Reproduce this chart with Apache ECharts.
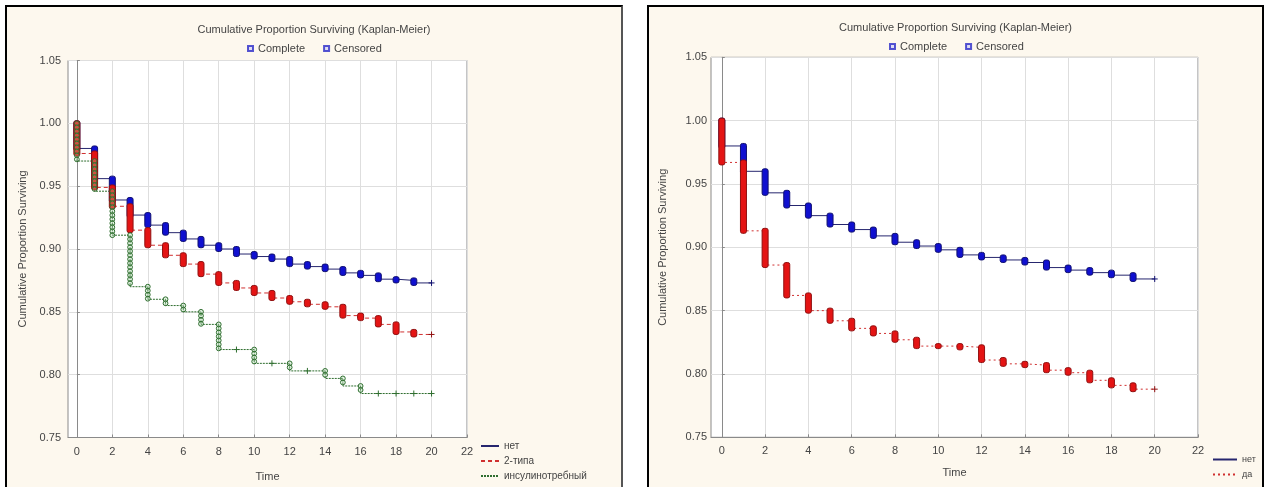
<!DOCTYPE html>
<html>
<head>
<meta charset="utf-8">
<script src="https://cdn.jsdelivr.net/npm/echarts@6/dist/echarts.min.js"></script>
<style>
  html, body { margin: 0; padding: 0; background: #fff; width: 1264px; height: 487px; overflow: hidden; }
  .panel { position: absolute; top: 5px; height: 500px; border: 2px solid #000; box-sizing: border-box; background: #fdf8ee; }
  #left { left: 5px; width: 618px; border-right-color: #555; }
  #right { left: 647px; width: 617px; }
</style>
</head>
<body>
<div class="panel" id="left"></div>
<div class="panel" id="right"></div>
<script>
// time points (the curve starts at 1.0 at t = 0)
const times = [0, 1, 2, 3, 4, 5, 6, 7, 8, 9, 10, 11, 12, 13, 14, 15, 16, 17, 18, 19, 20];
const xTicks = [0, 2, 4, 6, 8, 10, 12, 14, 16, 18, 20, 22];

// left chart: survival level after each time 0..19
const noLeft      = [0.980, 0.956, 0.939, 0.927, 0.919, 0.913, 0.908, 0.903, 0.900, 0.896, 0.894, 0.892, 0.888, 0.886, 0.884, 0.881, 0.879, 0.876, 0.875, 0.873];
const type2Left   = [0.976, 0.949, 0.934, 0.915, 0.903, 0.895, 0.888, 0.880, 0.873, 0.869, 0.865, 0.861, 0.858, 0.856, 0.854, 0.847, 0.845, 0.840, 0.834, 0.832];
const insulinLeft = [0.970, 0.946, 0.911, 0.870, 0.860, 0.855, 0.850, 0.840, 0.820, 0.820, 0.809, 0.809, 0.803, 0.803, 0.797, 0.791, 0.785, 0.785, 0.785, 0.785];

// right chart
const noRight  = [0.980, 0.960, 0.943, 0.933, 0.925, 0.918, 0.914, 0.909, 0.904, 0.901, 0.898, 0.894, 0.892, 0.890, 0.888, 0.884, 0.882, 0.880, 0.878, 0.875];
const yesRight = [0.967, 0.913, 0.886, 0.862, 0.850, 0.842, 0.836, 0.832, 0.827, 0.822, 0.822, 0.821, 0.811, 0.808, 0.807, 0.803, 0.801, 0.795, 0.791, 0.788];

const FONT = 'Liberation Sans, Arial, sans-serif';
const TXT = '#444';

function stepData(levels) {
    const d = [[times[0], 1.0]];
    levels.forEach((v, i) => d.push([times[i], v]));
    d.push([times[times.length - 1], levels[levels.length - 1]]);
    return d;
}

function dropData(levels) {
    return levels.map((v, i) => [times[i], i === 0 ? 1.0 : levels[i - 1], v]);
}

function plusShape(x, y, stroke) {
    return {
        type: 'group',
        children: [
            { type: 'line', shape: { x1: x - 3, y1: y, x2: x + 3, y2: y }, style: { stroke: stroke, lineWidth: 1 } },
            { type: 'line', shape: { x1: x, y1: y - 3, x2: x, y2: y + 3 }, style: { stroke: stroke, lineWidth: 1 } }
        ]
    };
}

// vertical bars of "complete" markers at each drop
function marks(name, levels, fill, stroke, kind, z) {
    const last = levels.length - 1;
    return {
        name: name + '_marks',
        type: 'custom',
        z: z,
        data: dropData(levels).concat([[times[times.length - 1], levels[last], levels[last]]]),
        encode: { x: 0, y: [1, 2] },
        renderItem: function (params, api) {
            const t = api.value(0);
            const p1 = api.coord([t, api.value(1)]);
            const p2 = api.coord([t, api.value(2)]);
            const flat = Math.abs(p2[1] - p1[1]) < 1;
            if (t === times[times.length - 1] || (kind === 'circle' && flat)) {
                return plusShape(p1[0], p2[1], stroke);
            }
            if (kind === 'circle') {
                const kids = [];
                for (let y = p1[1]; y <= p2[1] + 0.1; y += 4) {
                    kids.push({ type: 'circle', shape: { cx: p1[0], cy: y, r: 2.4 },
                        style: { fill: fill, stroke: stroke, lineWidth: 1 } });
                }
                return { type: 'group', children: kids };
            }
            const pad = 2.5;
            return {
                type: 'rect',
                shape: { x: p1[0] - 3, y: p1[1] - pad, width: 6, height: p2[1] - p1[1] + 2 * pad, r: 2 },
                style: { fill: fill, stroke: stroke, lineWidth: 1 }
            };
        }
    };
}

function curve(name, levels, color, dash, z) {
    return {
        name: name,
        type: 'line',
        step: 'end',
        symbol: 'none',
        z: z,
        data: stepData(levels),
        lineStyle: { color: color, width: 1, type: dash },
        itemStyle: { color: color }
    };
}

function baseOption(g) {
    return {
        animation: false,
        textStyle: { fontFamily: FONT },
        title: {
            text: 'Cumulative Proportion Surviving (Kaplan-Meier)',
            left: 'center',
            top: g.titleTop,
            textStyle: { fontSize: 11, fontWeight: 'normal', color: TXT, fontFamily: FONT }
        },
        grid: {
            left: g.left, top: g.top, width: g.width, height: g.height,
            show: true, backgroundColor: '#fff', borderColor: '#8a8a8a', borderWidth: 1
        },
        xAxis: {
            type: 'value', min: -0.5, max: 22,
            name: 'Time', nameLocation: 'middle', nameGap: g.xNameGap,
            nameTextStyle: { fontSize: 11, color: TXT },
            axisLine: { lineStyle: { color: '#8a8a8a' } },
            axisTick: { inside: true, length: 3, customValues: xTicks, lineStyle: { color: '#8a8a8a' } },
            axisLabel: { customValues: xTicks, margin: g.xLabelMargin, fontSize: 11, color: TXT },
            splitLine: { show: true, lineStyle: { color: '#dedede' } }
        },
        yAxis: {
            type: 'value', min: 0.75, max: 1.05, interval: 0.05,
            name: 'Cumulative Proportion Surviving', nameLocation: 'middle', nameGap: g.yNameGap,
            nameTextStyle: { fontSize: 11, color: TXT },
            axisLine: { show: true, lineStyle: { color: '#8a8a8a' } },
            axisTick: { show: true, inside: true, length: 3, lineStyle: { color: '#8a8a8a' } },
            axisLabel: { formatter: v => v.toFixed(2), margin: g.yLabelMargin, fontSize: 11, color: TXT },
            splitLine: { show: true, lineStyle: { color: '#dedede' } }
        }
    };
}

const topLegend = (top) => ({
    data: [{ name: 'Complete', icon: 'rect' }, { name: 'Censored', icon: 'rect' }],
    left: 235, top: top, itemWidth: 5, itemHeight: 5, itemGap: 18,
    selectedMode: false,
    textStyle: { fontSize: 11, color: TXT }
});
const legendDummies = [
    { name: 'Complete', type: 'scatter', data: [], itemStyle: { color: '#d4d4f4', borderColor: '#2a2ac8', borderWidth: 1 } },
    { name: 'Censored', type: 'scatter', data: [], itemStyle: { color: '#d4d4f4', borderColor: '#2a2ac8', borderWidth: 1 } }
];

// ---- left chart ----
const leftChart = echarts.init(document.getElementById('left'));
const leftOpt = baseOption({
    titleTop: 12, left: 61, top: 53.5, width: 399, height: 377,
    xNameGap: 34, xLabelMargin: 9, yNameGap: 40, yLabelMargin: 7
});
leftOpt.legend = [
    topLegend(31),
    {
        data: ['нет', '2-типа', 'инсулинотребный'],
        orient: 'vertical', left: 468, top: 429,
        itemWidth: 18, itemHeight: 10, itemGap: 5, selectedMode: false,
        itemStyle: { opacity: 0 },
        textStyle: { fontSize: 10, color: TXT }
    }
];
leftOpt.series = legendDummies.concat([
    curve('нет', noLeft, '#26266e', 'solid', 2),
    curve('2-типа', type2Left, '#d03030', [4, 3], 2),
    curve('инсулинотребный', insulinLeft, '#2f6e2f', [2, 1], 2),
    marks('нет', noLeft, '#1010d0', '#101070', 'rect', 3),
    marks('2-типа', type2Left, '#e41414', '#901010', 'rect', 4),
    marks('инсулинотребный', insulinLeft, 'rgba(170,220,170,0.3)', '#2f6e2f', 'circle', 5)
]);
leftChart.setOption(leftOpt);

// ---- right chart ----
const rightChart = echarts.init(document.getElementById('right'));
const rightOpt = baseOption({
    titleTop: 10, left: 60, top: 50.3, width: 489, height: 380,
    xNameGap: 30, xLabelMargin: 8, yNameGap: 43, yLabelMargin: 4
});
rightOpt.legend = [
    topLegend(29),
    {
        data: ['нет', 'да'],
        orient: 'vertical', left: 558, top: 443,
        itemWidth: 24, itemHeight: 8, itemGap: 6, selectedMode: false,
        itemStyle: { opacity: 0 },
        textStyle: { fontSize: 9, color: TXT }
    }
];
rightOpt.series = legendDummies.concat([
    curve('нет', noRight, '#26266e', 'solid', 2),
    curve('да', yesRight, '#d03030', [2, 3], 2),
    marks('нет', noRight, '#1010d0', '#101070', 'rect', 3),
    marks('да', yesRight, '#e41414', '#901010', 'rect', 4)
]);
rightChart.setOption(rightOpt);
</script>
</body>
</html>
